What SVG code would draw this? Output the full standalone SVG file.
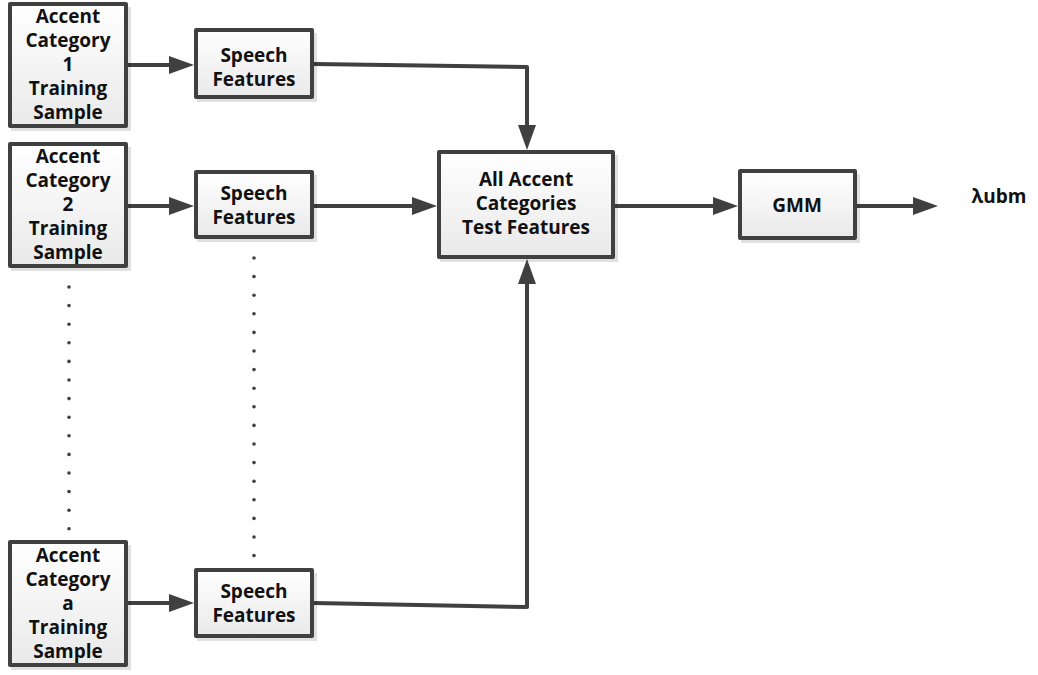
<svg xmlns="http://www.w3.org/2000/svg" width="1038" height="675" viewBox="0 0 1038 675">
<defs>
<linearGradient id="fillg" x1="0" y1="0" x2="0" y2="1">
<stop offset="0" stop-color="#ffffff"/>
<stop offset="1" stop-color="#e9e9e9"/>
</linearGradient>
<marker id="arr" markerUnits="userSpaceOnUse" markerWidth="26" markerHeight="20" refX="0" refY="9" orient="auto" viewBox="0 0 26 18">
<path d="M0,0 L25,9 L0,18 z" fill="#404040"/>
</marker>
</defs>
<style>
.box{fill:url(#fillg);stroke:#404040;stroke-width:4;stroke-linejoin:round}
.sh{fill:#000;opacity:0.12}
.t{font-family:"Open Sans","DejaVu Sans",sans-serif;font-weight:bold;font-size:19px;fill:#111111;text-anchor:middle}
.c{fill:none;stroke:#404040;stroke-width:4;stroke-linejoin:round;marker-end:url(#arr)}
.dot{fill:#404040}
</style>
<rect width="1038" height="675" fill="#ffffff"/>

<g id="connectors">
<path class="c" d="M128,65 H169"/>
<path class="c" d="M314,64 L527,67 V125"/>
<path class="c" d="M128,206 H169"/>
<path class="c" d="M314,206 H412"/>
<path class="c" d="M128,603 H169"/>
<path class="c" d="M314,603 L527,607 V284"/>
<path class="c" d="M615,206 H713"/>
<path class="c" d="M857,206 H913"/>
</g>

<g id="dots-left">
<circle class="dot" cx="69" cy="287" r="1.8"/>
<circle class="dot" cx="69" cy="305.6" r="1.8"/>
<circle class="dot" cx="69" cy="324.2" r="1.8"/>
<circle class="dot" cx="69" cy="342.8" r="1.8"/>
<circle class="dot" cx="69" cy="361.4" r="1.8"/>
<circle class="dot" cx="69" cy="380" r="1.8"/>
<circle class="dot" cx="69" cy="398.6" r="1.8"/>
<circle class="dot" cx="69" cy="417.2" r="1.8"/>
<circle class="dot" cx="69" cy="435.8" r="1.8"/>
<circle class="dot" cx="69" cy="454.4" r="1.8"/>
<circle class="dot" cx="69" cy="473" r="1.8"/>
<circle class="dot" cx="69" cy="491.6" r="1.8"/>
<circle class="dot" cx="69" cy="510.2" r="1.8"/>
<circle class="dot" cx="69" cy="528.8" r="1.8"/>
</g>
<g id="dots-right">
<circle class="dot" cx="254" cy="258" r="1.8"/>
<circle class="dot" cx="254" cy="276.6" r="1.8"/>
<circle class="dot" cx="254" cy="295.2" r="1.8"/>
<circle class="dot" cx="254" cy="313.8" r="1.8"/>
<circle class="dot" cx="254" cy="332.4" r="1.8"/>
<circle class="dot" cx="254" cy="351" r="1.8"/>
<circle class="dot" cx="254" cy="369.6" r="1.8"/>
<circle class="dot" cx="254" cy="388.2" r="1.8"/>
<circle class="dot" cx="254" cy="406.8" r="1.8"/>
<circle class="dot" cx="254" cy="425.4" r="1.8"/>
<circle class="dot" cx="254" cy="444" r="1.8"/>
<circle class="dot" cx="254" cy="462.6" r="1.8"/>
<circle class="dot" cx="254" cy="481.2" r="1.8"/>
<circle class="dot" cx="254" cy="499.8" r="1.8"/>
<circle class="dot" cx="254" cy="518.4" r="1.8"/>
<circle class="dot" cx="254" cy="537" r="1.8"/>
<circle class="dot" cx="254" cy="555.6" r="1.8"/>
</g>

<g id="acc1">
<rect class="sh" x="11" y="7" width="120" height="124"/>
<rect class="box" x="10" y="4" width="116" height="122"/>
<text class="t" x="68" y="23">Accent</text>
<text class="t" x="68" y="47">Category</text>
<text class="t" x="68" y="71">1</text>
<text class="t" x="68" y="95">Training</text>
<text class="t" x="68" y="119">Sample</text>
</g>
<g id="acc2">
<rect class="sh" x="11" y="147" width="120" height="124"/>
<rect class="box" x="10" y="144" width="116" height="122"/>
<text class="t" x="68" y="163">Accent</text>
<text class="t" x="68" y="187">Category</text>
<text class="t" x="68" y="211">2</text>
<text class="t" x="68" y="235">Training</text>
<text class="t" x="68" y="259">Sample</text>
</g>
<g id="acca">
<rect class="sh" x="11" y="545" width="120" height="125"/>
<rect class="box" x="10" y="542" width="116" height="123"/>
<text class="t" x="68" y="562">Accent</text>
<text class="t" x="68" y="586">Category</text>
<text class="t" x="68" y="610">a</text>
<text class="t" x="68" y="634">Training</text>
<text class="t" x="68" y="658">Sample</text>
</g>
<g id="sf1">
<rect class="sh" x="197" y="33" width="120" height="69"/>
<rect class="box" x="196" y="30" width="116" height="67"/>
<text class="t" x="254" y="62">Speech</text>
<text class="t" x="254" y="86">Features</text>
</g>
<g id="sf2">
<rect class="sh" x="197" y="175" width="120" height="67"/>
<rect class="box" x="196" y="172" width="116" height="65"/>
<text class="t" x="254" y="200">Speech</text>
<text class="t" x="254" y="224">Features</text>
</g>
<g id="sfa">
<rect class="sh" x="197" y="573" width="120" height="68"/>
<rect class="box" x="196" y="570" width="116" height="66"/>
<text class="t" x="254" y="598">Speech</text>
<text class="t" x="254" y="622">Features</text>
</g>
<g id="all">
<rect class="sh" x="440" y="155" width="178" height="107"/>
<rect class="box" x="439" y="152" width="174" height="105"/>
<text class="t" x="526" y="186">All Accent</text>
<text class="t" x="526" y="210">Categories</text>
<text class="t" x="526" y="234">Test Features</text>
</g>
<g id="gmm">
<rect class="sh" x="741" y="174" width="119" height="69"/>
<rect class="box" x="740" y="171" width="115" height="67"/>
<text class="t" x="797" y="212">GMM</text>
</g>
<g id="out">
<text class="t" x="999" y="203">λubm</text>
</g>
</svg>
